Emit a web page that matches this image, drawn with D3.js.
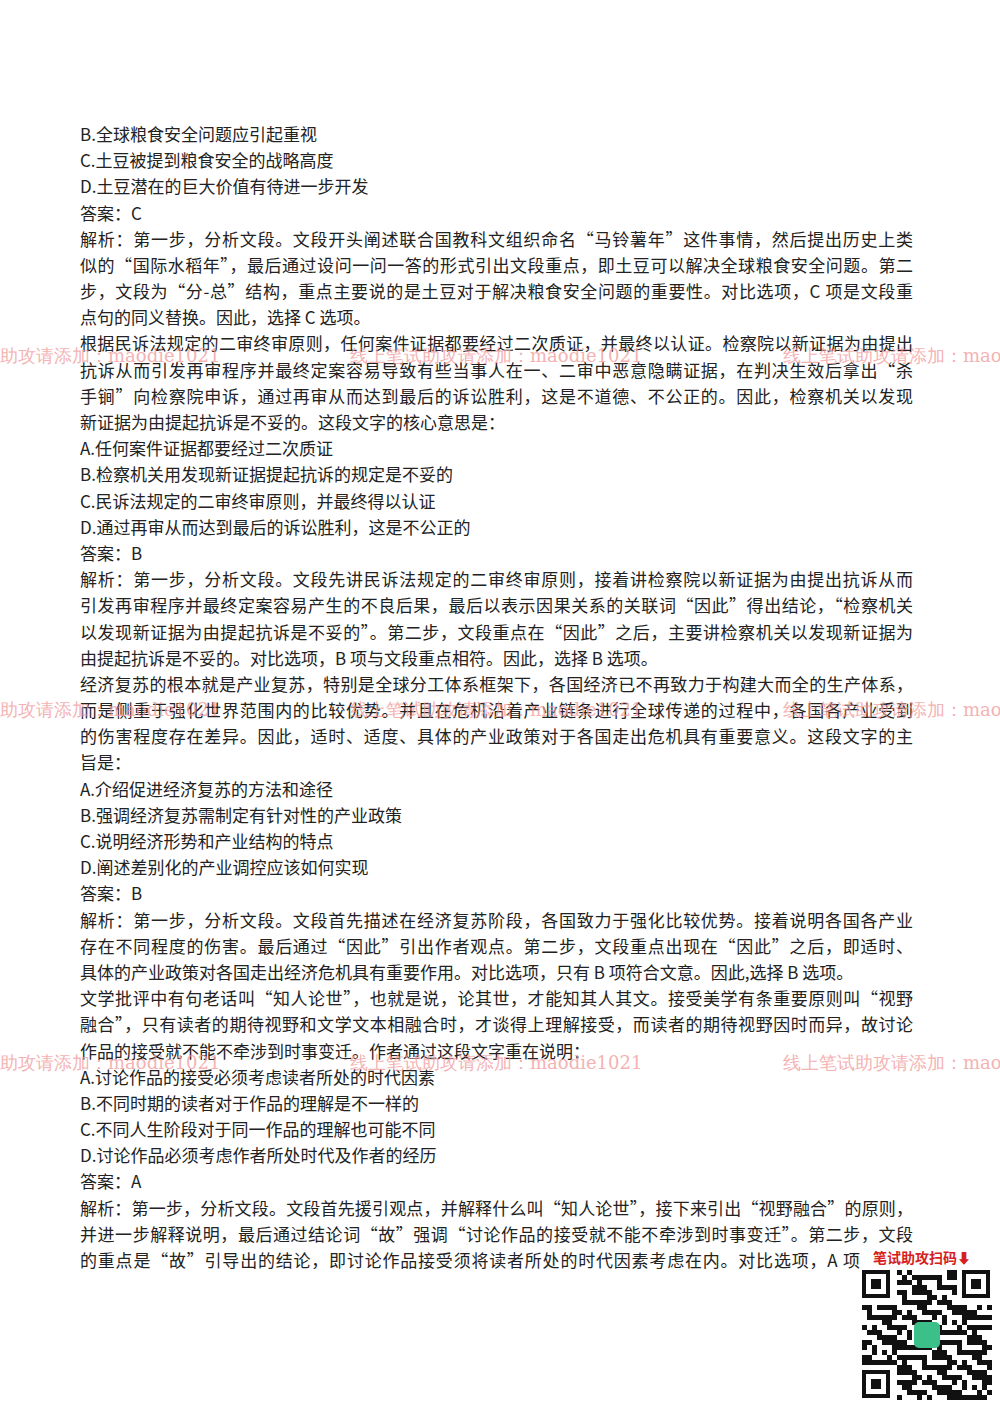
<!DOCTYPE html>
<html><head><meta charset="utf-8">
<script src="https://cdn.jsdelivr.net/npm/d3@7"></script>
<style>body{margin:0;background:#fff}</style>
</head><body>
<svg width="1000" height="1414"></svg>
<script>
// text lines of the page; j = justified to full width
var lines = [
  ["B.全球粮食安全问题应引起重视", 0],
  ["C.土豆被提到粮食安全的战略高度", 0],
  ["D.土豆潜在的巨大价值有待进一步开发", 0],
  ["答案：C", 0],
  ["解析：第一步，分析文段。文段开头阐述联合国教科文组织命名“马铃薯年”这件事情，然后提出历史上类", 1],
  ["似的“国际水稻年”，最后通过设问一问一答的形式引出文段重点，即土豆可以解决全球粮食安全问题。第二", 1],
  ["步，文段为“分-总”结构，重点主要说的是土豆对于解决粮食安全问题的重要性。对比选项，C 项是文段重", 1],
  ["点句的同义替换。因此，选择 C 选项。", 0],
  ["根据民诉法规定的二审终审原则，任何案件证据都要经过二次质证，并最终以认证。检察院以新证据为由提出", 1],
  ["抗诉从而引发再审程序并最终定案容易导致有些当事人在一、二审中恶意隐瞒证据，在判决生效后拿出“杀", 1],
  ["手锏”向检察院申诉，通过再审从而达到最后的诉讼胜利，这是不道德、不公正的。因此，检察机关以发现", 1],
  ["新证据为由提起抗诉是不妥的。这段文字的核心意思是：", 0],
  ["A.任何案件证据都要经过二次质证", 0],
  ["B.检察机关用发现新证据提起抗诉的规定是不妥的", 0],
  ["C.民诉法规定的二审终审原则，并最终得以认证", 0],
  ["D.通过再审从而达到最后的诉讼胜利，这是不公正的", 0],
  ["答案：B", 0],
  ["解析：第一步，分析文段。文段先讲民诉法规定的二审终审原则，接着讲检察院以新证据为由提出抗诉从而", 1],
  ["引发再审程序并最终定案容易产生的不良后果，最后以表示因果关系的关联词“因此”得出结论，“检察机关", 1],
  ["以发现新证据为由提起抗诉是不妥的”。第二步，文段重点在“因此”之后，主要讲检察机关以发现新证据为", 1],
  ["由提起抗诉是不妥的。对比选项，B 项与文段重点相符。因此，选择 B 选项。", 0],
  ["经济复苏的根本就是产业复苏，特别是全球分工体系框架下，各国经济已不再致力于构建大而全的生产体系，", 1],
  ["而是侧重于强化世界范围内的比较优势。并且在危机沿着产业链条进行全球传递的过程中，各国各产业受到", 1],
  ["的伤害程度存在差异。因此，适时、适度、具体的产业政策对于各国走出危机具有重要意义。这段文字的主", 1],
  ["旨是：", 0],
  ["A.介绍促进经济复苏的方法和途径", 0],
  ["B.强调经济复苏需制定有针对性的产业政策", 0],
  ["C.说明经济形势和产业结构的特点", 0],
  ["D.阐述差别化的产业调控应该如何实现", 0],
  ["答案：B", 0],
  ["解析：第一步，分析文段。文段首先描述在经济复苏阶段，各国致力于强化比较优势。接着说明各国各产业", 1],
  ["存在不同程度的伤害。最后通过“因此”引出作者观点。第二步，文段重点出现在“因此”之后，即适时、", 1],
  ["具体的产业政策对各国走出经济危机具有重要作用。对比选项，只有 B 项符合文意。因此,选择 B 选项。", 0],
  ["文学批评中有句老话叫“知人论世”，也就是说，论其世，才能知其人其文。接受美学有条重要原则叫“视野", 1],
  ["融合”，只有读者的期待视野和文学文本相融合时，才谈得上理解接受，而读者的期待视野因时而异，故讨论", 1],
  ["作品的接受就不能不牵涉到时事变迁。作者通过这段文字重在说明：", 0],
  ["A.讨论作品的接受必须考虑读者所处的时代因素", 0],
  ["B.不同时期的读者对于作品的理解是不一样的", 0],
  ["C.不同人生阶段对于同一作品的理解也可能不同", 0],
  ["D.讨论作品必须考虑作者所处时代及作者的经历", 0],
  ["答案：A", 0],
  ["解析：第一步，分析文段。文段首先援引观点，并解释什么叫“知人论世”，接下来引出“视野融合”的原则，", 1],
  ["并进一步解释说明，最后通过结论词“故”强调“讨论作品的接受就不能不牵涉到时事变迁”。第二步，文段", 1],
  ["的重点是“故”引导出的结论，即讨论作品接受须将读者所处的时代因素考虑在内。对比选项，A 项", 2]
];
var watermarkRows = [362, 716, 1069];
var watermarks = [["助攻请添加：maodie1021", 0], ["线上笔试助攻请添加：maodie1021", 350], ["线上笔试助攻请添加：maodie1021", 783]];

var svg = d3.select("svg");
var y = d3.scaleLinear().domain([0, lines.length - 1]).range([141, 1267]);

svg.append("g").selectAll("text").data(lines).join("text")
  .attr("x", 80).attr("y", function(d, i) { return y(i); })
  .attr("font-family", "'Noto Sans CJK SC', 'Noto Sans', sans-serif")
  .attr("font-size", 17).attr("fill", "#222")
  .each(function(d) {
    if (d[1]) d3.select(this).attr("textLength", d[1] === 2 ? 780 : 833).attr("lengthAdjust", "spacing");
  })
  .text(function(d) { return d[0]; });

var wm = svg.append("g").attr("fill", "#f19a9a").attr("opacity", 0.75)
  .attr("font-family", "'DejaVu Serif', serif").attr("font-size", 18);
watermarkRows.forEach(function(ry) {
  wm.selectAll(null).data(watermarks).join("text")
    .attr("x", function(d) { return d[1]; }).attr("y", ry)
    .text(function(d) { return d[0]; });
});

// QR code placeholder
svg.append("text").attr("x", 873).attr("y", 1263).attr("fill", "#d62020")
  .attr("font-family", "'Noto Sans CJK SC'").attr("font-weight", "bold").attr("font-size", 14)
  .text("笔试助攻扫码⬇");
var qr = svg.append("g").attr("transform", "translate(862,1270)");
qr.append("rect").attr("width", 130).attr("height", 130).attr("fill", "#fff");
var finders = [[0, 0], [100, 0], [0, 100]];
finders.forEach(function(f) {
  qr.append("rect").attr("x", f[0] + 2).attr("y", f[1] + 2).attr("width", 24).attr("height", 24)
    .attr("fill", "none").attr("stroke", "#111").attr("stroke-width", 4);
  qr.append("rect").attr("x", f[0] + 9).attr("y", f[1] + 9).attr("width", 10).attr("height", 10).attr("fill", "#111");
});
var mods = "1011001110100101100111010011010110010110110100110101101001110100101101001011011001110101001011010010110";
var cells = [];
for (var r = 0; r < 26; r++) for (var c = 0; c < 26; c++) {
  if ((r < 7 && c < 7) || (r < 7 && c > 18) || (r > 18 && c < 7)) continue;
  if (mods[(r * 7 + c * 3) % mods.length] === "1") cells.push([r, c]);
}
qr.selectAll(".m").data(cells).join("rect").attr("class", "m")
  .attr("x", function(d) { return d[1] * 5; }).attr("y", function(d) { return d[0] * 5; })
  .attr("width", 5).attr("height", 5).attr("fill", "#111");
qr.append("rect").attr("x", 52).attr("y", 52).attr("width", 26).attr("height", 26).attr("rx", 5).attr("fill", "#3cc08a");
</script>
</body></html>
